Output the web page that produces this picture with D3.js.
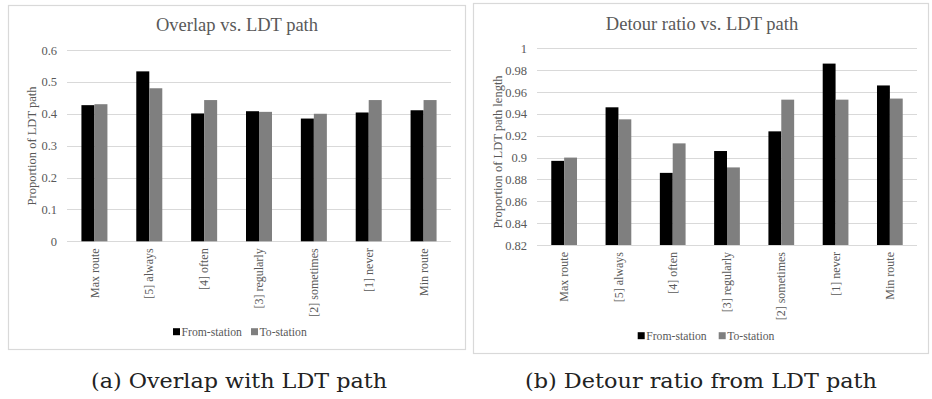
<!DOCTYPE html>
<html>
<head>
<meta charset="utf-8">
<script src="https://cdn.jsdelivr.net/npm/d3@7"></script>
</head>
<body style="margin:0">
<svg id="fig" width="932" height="399" font-family="Liberation Serif"></svg>
<script>
// Route categories shared by both panels
const categories = ["Max route", "[5] always", "[4] often", "[3] regularly", "[2] sometimes", "[1] never", "Min route"];
const seriesNames = ["From-station", "To-station"];
const seriesColors = ["#000000", "#7f7f7f"];

// Panel (a): overlap with LDT path
const overlapFrom = [0.427, 0.533, 0.401, 0.408, 0.385, 0.404, 0.411];
const overlapTo   = [0.430, 0.480, 0.443, 0.406, 0.400, 0.443, 0.443];
const overlapTicks = [0, 0.1, 0.2, 0.3, 0.4, 0.5, 0.6];

// Panel (b): detour ratio from LDT path
const detourFrom = [0.897, 0.946, 0.886, 0.906, 0.924, 0.986, 0.966];
const detourTo   = [0.900, 0.935, 0.913, 0.891, 0.953, 0.953, 0.954];
const detourTicks = [0.82, 0.84, 0.86, 0.88, 0.9, 0.92, 0.94, 0.96, 0.98, 1];

const svg = d3.select("#fig");
const chartFont = "Liberation Serif";
const captionFont = "DejaVu Serif";
const textGray = "#595959";

function panel(cfg) {
  const g = svg.append("g");
  // chart frame
  g.append("rect")
    .attr("x", cfg.frame[0] + 0.5).attr("y", cfg.frame[1] + 0.5)
    .attr("width", cfg.frame[2]).attr("height", cfg.frame[3])
    .attr("fill", "#fff").attr("stroke", "#d9d9d9").attr("stroke-width", 1.2);

  const x = d3.scaleBand().domain(categories).range([cfg.plot.x0, cfg.plot.x1]);
  const y = d3.scaleLinear().domain(cfg.domain).range([cfg.plot.y0, cfg.plot.y1]);
  const groupW = x.bandwidth() * 0.474;
  const xs = d3.scaleBand().domain(seriesNames).range([0, groupW]);

  // gridlines
  g.append("g").selectAll("line").data(cfg.ticks).join("line")
    .attr("x1", cfg.plot.x0).attr("x2", cfg.plot.x1)
    .attr("y1", d => Math.round(y(d)) + 0.5).attr("y2", d => Math.round(y(d)) + 0.5)
    .attr("stroke", "#d9d9d9").attr("stroke-width", 1);

  // y axis labels
  const yAxis = d3.axisLeft(y).tickValues(cfg.ticks).tickSize(0).tickPadding(10)
    .tickFormat(d => String(+d.toFixed(2)));
  const ya = g.append("g").attr("transform", `translate(${cfg.plot.x0},0)`).call(yAxis)
    .attr("font-family", chartFont).attr("font-size", 12.5);
  ya.select(".domain").remove();
  ya.selectAll("text").attr("font-family", chartFont).attr("fill", textGray);

  // bars
  const rows = categories.map((c, i) => ({ c, vals: [cfg.from[i], cfg.to[i]] }));
  const grp = g.append("g").selectAll("g").data(rows).join("g")
    .attr("transform", d => `translate(${x(d.c) + (x.bandwidth() - groupW) / 2},0)`);
  grp.selectAll("rect").data(d => d.vals.map((v, k) => ({ v, k }))).join("rect")
    .attr("x", d => xs(seriesNames[d.k]))
    .attr("width", xs.bandwidth())
    .attr("y", d => y(d.v))
    .attr("height", d => y(cfg.domain[0]) - y(d.v))
    .attr("fill", d => seriesColors[d.k]);

  // x axis labels (rotated)
  const xAxis = d3.axisBottom(x).tickSize(0).tickPadding(0);
  const xa = g.append("g").attr("transform", `translate(0,${cfg.plot.y0})`).call(xAxis)
    .attr("font-family", chartFont).attr("font-size", 12);
  xa.select(".domain").remove();
  xa.selectAll("text")
    .attr("font-family", chartFont).attr("fill", textGray)
    .attr("transform", "rotate(-90)")
    .attr("text-anchor", "end")
    .attr("dy", "0.35em")
    .attr("x", -cfg.xLabelGap).attr("y", 0);

  // title
  g.append("text").attr("x", cfg.titlePos[0]).attr("y", cfg.titlePos[1])
    .attr("text-anchor", "middle").attr("font-family", chartFont).attr("font-size", 18.5)
    .attr("fill", textGray).text(cfg.title);

  // y axis title
  g.append("text")
    .attr("transform", `translate(${cfg.yTitlePos[0]},${cfg.yTitlePos[1]}) rotate(-90)`)
    .attr("text-anchor", "middle").attr("dy", "0.35em")
    .attr("font-family", chartFont).attr("font-size", 12.5).attr("fill", textGray)
    .text(cfg.yTitle);

  // legend
  const lg = g.append("g").attr("transform", `translate(${cfg.legend[0]},${cfg.legend[1]})`);
  const offsets = [0, cfg.legendStep];
  seriesNames.forEach((n, k) => {
    lg.append("rect").attr("x", offsets[k]).attr("y", -3.5).attr("width", 7).attr("height", 7)
      .attr("fill", seriesColors[k]);
    lg.append("text").attr("x", offsets[k] + 8.5).attr("y", 0).attr("dy", "0.35em")
      .attr("font-family", chartFont).attr("font-size", 11.7).attr("fill", textGray).text(n);
  });

  // caption below the frame
  svg.append("text")
    .attr("x", cfg.captionPos[0]).attr("y", cfg.captionPos[1])
    .attr("text-anchor", "middle").attr("font-family", captionFont).attr("font-size", 21)
    .attr("textLength", cfg.captionWidth).attr("lengthAdjust", "spacingAndGlyphs")
    .attr("fill", "#222").text(cfg.caption);
}

panel({
  frame: [8, 5, 457, 344],
  plot: { x0: 67, x1: 451, y0: 241.3, y1: 50 },
  domain: [0, 0.6], ticks: overlapTicks,
  from: overlapFrom, to: overlapTo,
  title: "Overlap vs. LDT path", titlePos: [237, 31],
  yTitle: "Proportion of LDT path", yTitlePos: [32, 146],
  xLabelGap: 7,
  legend: [173, 331.7], legendStep: 78,
  caption: "(a) Overlap with LDT path", captionPos: [239, 388], captionWidth: 296
});

panel({
  frame: [473, 3, 455, 350],
  plot: { x0: 537, x1: 917, y0: 245, y1: 48.3 },
  domain: [0.82, 1], ticks: detourTicks,
  from: detourFrom, to: detourTo,
  title: "Detour ratio vs. LDT path", titlePos: [702, 30],
  yTitle: "Proportion of LDT path length", yTitlePos: [498, 152],
  xLabelGap: 7,
  legend: [637.7, 335.7], legendStep: 81,
  caption: "(b) Detour ratio from LDT path", captionPos: [701, 388], captionWidth: 352
});
</script>
</body>
</html>
